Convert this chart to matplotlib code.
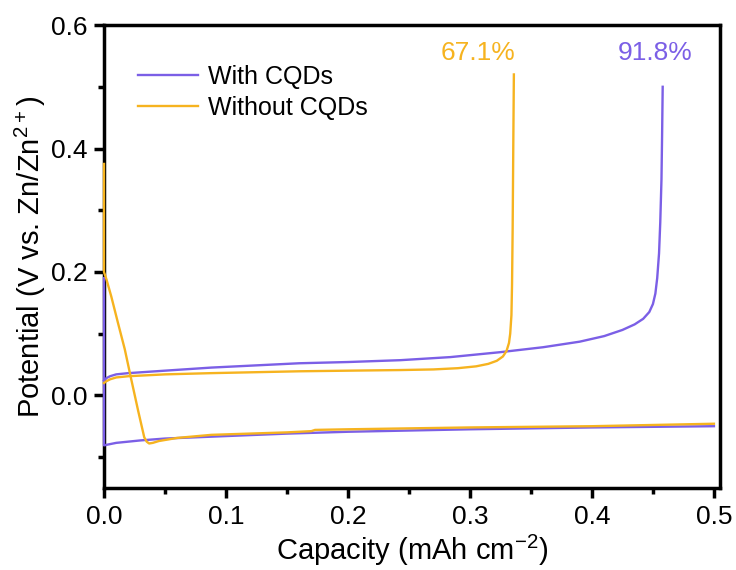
import matplotlib.pyplot as plt
import numpy as np
from matplotlib.ticker import MultipleLocator

plt.rcParams['font.family'] = ['Liberation Sans', 'DejaVu Sans']
plt.rcParams['mathtext.default'] = 'regular'

# With CQDs: plating (lower branch) and stripping (upper branch)
cqd_plate_cap = [0.0, 0.0, 0.0, 0.005, 0.01, 0.03, 0.05, 0.1, 0.15, 0.2, 0.3, 0.4, 0.5]
cqd_plate_pot = [0.19, 0.0, -0.081, -0.079, -0.077, -0.073, -0.070, -0.066, -0.062, -0.059, -0.055, -0.052, -0.050]
cqd_strip_cap = [0.0, 0.002, 0.005, 0.01, 0.02, 0.05, 0.088, 0.16, 0.2, 0.243, 0.284, 0.325, 0.36, 0.39,
                 0.41, 0.425, 0.435, 0.442, 0.447, 0.450, 0.452, 0.4535, 0.455, 0.456, 0.457, 0.4575, 0.458]
cqd_strip_pot = [0.024, 0.028, 0.031, 0.034, 0.036, 0.040, 0.045, 0.052, 0.054, 0.057, 0.062, 0.070, 0.078, 0.087,
                 0.096, 0.106, 0.115, 0.124, 0.135, 0.148, 0.165, 0.19, 0.23, 0.28, 0.35, 0.42, 0.50]

# Without CQDs
bare_plate_cap = [0.0, 0.0, 0.002, 0.006, 0.0115, 0.017, 0.022, 0.028, 0.033, 0.035, 0.037, 0.040, 0.045,
                  0.06, 0.088, 0.15, 0.17, 0.173, 0.2, 0.3, 0.4, 0.5]
bare_plate_pot = [0.375, 0.20, 0.188, 0.160, 0.117, 0.075, 0.029, -0.025, -0.068, -0.075, -0.078, -0.077, -0.074,
                  -0.069, -0.064, -0.060, -0.058, -0.056, -0.055, -0.052, -0.050, -0.046]
bare_strip_cap = [0.0, 0.002, 0.005, 0.01, 0.02, 0.05, 0.088, 0.16, 0.2, 0.243, 0.27, 0.29, 0.305, 0.315,
                  0.322, 0.327, 0.330, 0.332, 0.333, 0.334, 0.3345, 0.335, 0.3355, 0.336]
bare_strip_pot = [0.020, 0.023, 0.026, 0.029, 0.031, 0.034, 0.036, 0.039, 0.040, 0.041, 0.042, 0.044, 0.047, 0.051,
                  0.056, 0.063, 0.072, 0.085, 0.10, 0.13, 0.18, 0.27, 0.40, 0.52]

purple = '#7B5FE6'
orange = '#F6B31F'

fig = plt.figure(figsize=(7.36, 5.70), dpi=100)
ax = fig.add_axes([0.1413, 0.144, 0.837, 0.812])

lw = 1.7
ax.plot(cqd_plate_cap, cqd_plate_pot, color=purple, lw=lw, label='With CQDs', zorder=4, clip_on=False)
ax.plot(cqd_strip_cap, cqd_strip_pot, color=purple, lw=lw, zorder=4, clip_on=False)
ax.plot(bare_plate_cap, bare_plate_pot, color=orange, lw=lw, label='Without CQDs', zorder=4, clip_on=False)
ax.plot(bare_strip_cap, bare_strip_pot, color=orange, lw=lw, zorder=4, clip_on=False)

# Coulombic efficiency labels above each stripping end
ax.text(0.452, 0.535, '91.8%', color=purple, fontsize=19, ha='center', va='bottom')
ax.text(0.307, 0.535, '67.1%', color=orange, fontsize=19, ha='center', va='bottom')

ax.set_xlim(0, 0.505)
ax.set_ylim(-0.15, 0.6)
ax.xaxis.set_major_locator(MultipleLocator(0.1))
ax.xaxis.set_minor_locator(MultipleLocator(0.05))
ax.yaxis.set_major_locator(MultipleLocator(0.2))
ax.yaxis.set_minor_locator(MultipleLocator(0.1))
ax.tick_params(which='major', direction='out', length=7, width=2.5, labelsize=19, pad=5)
ax.tick_params(which='minor', direction='out', length=4, width=2.5)
for s in ax.spines.values():
    s.set_linewidth(2.5)

ax.set_xlabel('Capacity (mAh cm$^{-2}$)', fontsize=21, labelpad=3)
ax.set_ylabel('Potential (V vs. Zn/Zn$^{2+}$)', fontsize=21, labelpad=2)

ax.legend(loc='upper left', bbox_to_anchor=(0.018, 0.963), frameon=False, fontsize=18,
          handlelength=2.4, handletextpad=0.4, labelspacing=0.3)

fig.savefig('out.png', dpi=100)
